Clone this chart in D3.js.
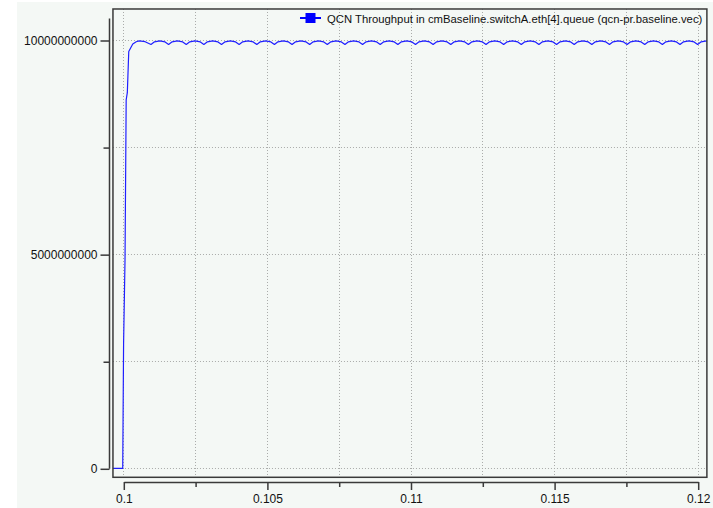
<!DOCTYPE html>
<html>
<head>
<meta charset="utf-8">
<script src="https://cdn.jsdelivr.net/npm/d3@7/dist/d3.min.js"></script>
<style>
  html, body { margin: 0; padding: 0; background: #ffffff; }
  svg { display: block; }
  text { font-family: "Liberation Sans", Arial, sans-serif; fill: #111; }
</style>
</head>
<body>
<svg id="chart" width="713" height="508"></svg>
<script>
// Vector samples: simulation time (s) and throughput (bit/s)
const sampleTime = [
  0.0996, 0.09998, 0.09999, 0.10001, 0.10006, 0.10010, 0.10014, 0.10019,
  0.10033, 0.10045, 0.10055, 0.10076,
  0.100964, 0.101087, 0.101271, 0.101455,
  0.101578, 0.101701, 0.101885, 0.102069,
  0.102192, 0.102315, 0.102499, 0.102683,
  0.102806, 0.102929, 0.103113, 0.103297,
  0.103420, 0.103543, 0.103727, 0.103911,
  0.104034, 0.104157, 0.104341, 0.104525,
  0.104648, 0.104771, 0.104955, 0.105139,
  0.105262, 0.105385, 0.105569, 0.105753,
  0.105876, 0.105999, 0.106183, 0.106367,
  0.106490, 0.106613, 0.106797, 0.106981,
  0.107104, 0.107227, 0.107411, 0.107595,
  0.107718, 0.107841, 0.108025, 0.108209,
  0.108332, 0.108455, 0.108639, 0.108823,
  0.108946, 0.109069, 0.109253, 0.109437,
  0.109560, 0.109683, 0.109867, 0.110051,
  0.110174, 0.110297, 0.110481, 0.110665,
  0.110788, 0.110911, 0.111095, 0.111279,
  0.111402, 0.111525, 0.111709, 0.111893,
  0.112016, 0.112139, 0.112323, 0.112507,
  0.112630, 0.112753, 0.112937, 0.113121,
  0.113244, 0.113367, 0.113551, 0.113735,
  0.113858, 0.113981, 0.114165, 0.114349,
  0.114472, 0.114595, 0.114779, 0.114963,
  0.115086, 0.115209, 0.115393, 0.115577,
  0.115700, 0.115823, 0.116007, 0.116191,
  0.116314, 0.116437, 0.116621, 0.116805,
  0.116928, 0.117051, 0.117235, 0.117419,
  0.117542, 0.117665, 0.117849, 0.118033,
  0.118156, 0.118279, 0.118463, 0.118647,
  0.118770, 0.118893, 0.119077, 0.119261,
  0.119384, 0.119507, 0.119691, 0.119875,
  0.119998, 0.120121, 0.120305, 0.120500
];
const throughput = [
  0, 0, 0.96e9, 2.92e9, 4.88e9, 8.60e9, 8.77e9, 9.73e9,
  9.907e9, 9.960e9, 9.978e9, 9.960e9,
  9.895e9, 9.958e9, 9.978e9, 9.955e9,
  9.895e9, 9.958e9, 9.978e9, 9.955e9,
  9.895e9, 9.958e9, 9.978e9, 9.955e9,
  9.895e9, 9.958e9, 9.978e9, 9.955e9,
  9.895e9, 9.958e9, 9.978e9, 9.955e9,
  9.895e9, 9.958e9, 9.978e9, 9.955e9,
  9.895e9, 9.958e9, 9.978e9, 9.955e9,
  9.895e9, 9.958e9, 9.978e9, 9.955e9,
  9.895e9, 9.958e9, 9.978e9, 9.955e9,
  9.895e9, 9.958e9, 9.978e9, 9.955e9,
  9.895e9, 9.958e9, 9.978e9, 9.955e9,
  9.895e9, 9.958e9, 9.978e9, 9.955e9,
  9.895e9, 9.958e9, 9.978e9, 9.955e9,
  9.895e9, 9.958e9, 9.978e9, 9.955e9,
  9.895e9, 9.958e9, 9.978e9, 9.955e9,
  9.895e9, 9.958e9, 9.978e9, 9.955e9,
  9.895e9, 9.958e9, 9.978e9, 9.955e9,
  9.895e9, 9.958e9, 9.978e9, 9.955e9,
  9.895e9, 9.958e9, 9.978e9, 9.955e9,
  9.895e9, 9.958e9, 9.978e9, 9.955e9,
  9.895e9, 9.958e9, 9.978e9, 9.955e9,
  9.895e9, 9.958e9, 9.978e9, 9.955e9,
  9.895e9, 9.958e9, 9.978e9, 9.955e9,
  9.895e9, 9.958e9, 9.978e9, 9.955e9,
  9.895e9, 9.958e9, 9.978e9, 9.955e9,
  9.895e9, 9.958e9, 9.978e9, 9.955e9,
  9.895e9, 9.958e9, 9.978e9, 9.955e9,
  9.895e9, 9.958e9, 9.978e9, 9.955e9,
  9.895e9, 9.958e9, 9.978e9, 9.955e9,
  9.895e9, 9.958e9, 9.978e9, 9.955e9,
  9.895e9, 9.958e9, 9.978e9, 9.955e9,
  9.895e9, 9.958e9, 9.978e9, 9.955e9
];

// Axis ticks
const xMajorTicks = [0.1, 0.105, 0.11, 0.115, 0.12];
const xTickLabels = ["0.1", "0.105", "0.11", "0.115", "0.12"];
const xMinorTicks = [0.1025, 0.1075, 0.1125, 0.1175];
const yMajorTicks = [0, 5e9, 1e10];
const yTickLabels = ["0", "5000000000", "10000000000"];
const yMinorTicks = [2.5e9, 7.5e9];

const seriesName = "QCN Throughput in cmBaseline.switchA.eth[4].queue (qcn-pr.baseline.vec)";
const seriesColor = "#1f1fff";
const axisColor = "#3a3a3a";

const svg = d3.select("#chart");

// Scales: time -> horizontal pixels, throughput -> vertical pixels
const x = d3.scaleLinear().domain([0.1, 0.12]).range([123.3, 697.7]);
const y = d3.scaleLinear().domain([0, 1e10]).range([468.3, 40]);

// Plot box edges in data units
const box = { x0: 0.09964, x1: 0.12032, y0: -0.21e9, y1: 1.0724e10 };
const bx0 = x(box.x0), bx1 = x(box.x1), by0 = y(box.y1), by1 = y(box.y0);

// Chart background panel
svg.append("rect")
  .attr("x", 17).attr("y", 2).attr("width", 696).attr("height", 506)
  .attr("fill", "#f4f8f5");

// Grid
const grid = svg.append("g")
  .attr("stroke", "#a9aba9").attr("stroke-width", 1).attr("stroke-dasharray", "1,2");
grid.selectAll("line.v").data(xMajorTicks.concat(xMinorTicks)).join("line")
  .attr("class", "v")
  .attr("x1", d => Math.round(x(d)) + 0.5).attr("x2", d => Math.round(x(d)) + 0.5)
  .attr("y1", by0).attr("y2", by1);
grid.selectAll("line.h").data(yMajorTicks.concat(yMinorTicks)).join("line")
  .attr("class", "h")
  .attr("y1", d => Math.round(y(d)) + 0.5).attr("y2", d => Math.round(y(d)) + 0.5)
  .attr("x1", bx0).attr("x2", bx1);

// Clip for the series
svg.append("clipPath").attr("id", "plotClip")
  .append("rect").attr("x", bx0).attr("y", by0).attr("width", bx1 - bx0).attr("height", by1 - by0);

const points = sampleTime.map((t, i) => [t, throughput[i]]);
const line = d3.line().x(d => x(d[0])).y(d => y(d[1]));
svg.append("path")
  .datum(points)
  .attr("clip-path", "url(#plotClip)")
  .attr("fill", "none")
  .attr("stroke", seriesColor)
  .attr("stroke-width", 1.2)
  .attr("stroke-linejoin", "round")
  .attr("d", line);

// Plot frame
svg.append("rect")
  .attr("x", bx0).attr("y", by0).attr("width", bx1 - bx0).attr("height", by1 - by0)
  .attr("fill", "none").attr("stroke", axisColor).attr("stroke-width", 1.5);

function styleAxis(g) {
  g.selectAll(".domain").attr("stroke", axisColor).attr("stroke-width", 1.5);
  g.selectAll(".tick line").attr("stroke", axisColor).attr("stroke-width", 1.5);
  g.selectAll(".tick text").style("font-family", "'Liberation Sans', Arial, sans-serif")
    .style("font-size", "12px").attr("fill", "#111");
}

// X axis (below the frame): major ticks with labels, minor ticks without
const xAxisY = 482;
const xMajor = svg.append("g").attr("transform", `translate(0.5,${xAxisY})`)
  .call(d3.axisBottom(x).tickValues(xMajorTicks).tickSize(8).tickSizeOuter(0)
    .tickFormat((d, i) => xTickLabels[i]));
styleAxis(xMajor);
xMajor.selectAll(".tick text").attr("y", 12);
const xMinor = svg.append("g").attr("transform", `translate(0.5,${xAxisY})`)
  .call(d3.axisBottom(x).tickValues(xMinorTicks).tickSize(5).tickSizeOuter(0).tickFormat(""));
xMinor.select(".domain").remove();
styleAxis(xMinor);

// Y axis (left of the frame)
const yAxisX = 109.5;
const yTop = 1.05e10;
const yMajor = svg.append("g").attr("transform", `translate(${yAxisX},0.5)`)
  .call(d3.axisLeft(y).tickValues(yMajorTicks).tickSize(9).tickSizeOuter(0)
    .tickFormat((d, i) => yTickLabels[i]));
yMajor.select(".domain").remove();
styleAxis(yMajor);
yMajor.selectAll(".tick text").attr("x", -12);
const yMinor = svg.append("g").attr("transform", `translate(${yAxisX},0.5)`)
  .call(d3.axisLeft(y).tickValues(yMinorTicks).tickSize(6).tickSizeOuter(0).tickFormat(""));
yMinor.select(".domain").remove();
styleAxis(yMinor);
svg.append("line").attr("x1", yAxisX).attr("x2", yAxisX).attr("y1", y(yTop)).attr("y2", y(0) + 0.5)
  .attr("stroke", axisColor).attr("stroke-width", 1.5);

// Legend
const legend = svg.append("g").attr("transform", "translate(300,18)");
legend.append("line").attr("x1", 0).attr("x2", 21).attr("y1", 0).attr("y2", 0)
  .attr("stroke", "#0000ff").attr("stroke-width", 2);
legend.append("rect").attr("x", 5.5).attr("y", -5).attr("width", 10).attr("height", 10)
  .attr("fill", "#0000ff");
legend.append("text").attr("x", 27).attr("y", 4.5)
  .style("font-size", "11.3px").text(seriesName);
</script>
</body>
</html>
